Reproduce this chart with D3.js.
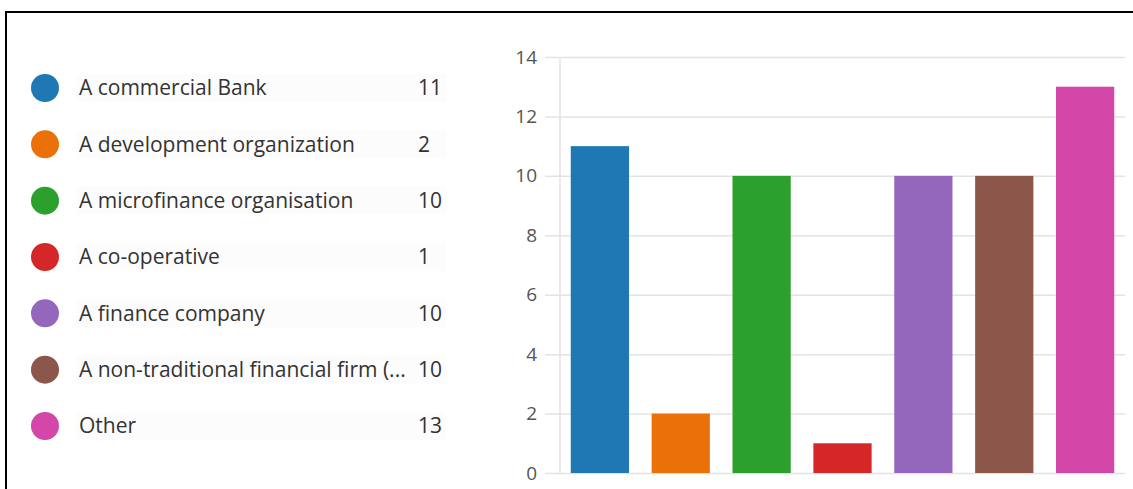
<!DOCTYPE html>
<html>
<head>
<meta charset="utf-8">
<script src="https://cdn.jsdelivr.net/npm/d3@7"></script>
<style>
  body { margin: 0; background: #fff; }
  svg { display: block; font-family: "Open Sans", "Noto Sans", sans-serif; }
</style>
</head>
<body>
<script>
// chart data
var categories = [
  "A commercial Bank",
  "A development organization",
  "A microfinance organisation",
  "A co-operative",
  "A finance company",
  "A non-traditional financial firm (...",
  "Other"
];
var counts = [11, 2, 10, 1, 10, 10, 13];
var colors = ["#1f77b4", "#ec7008", "#2ca02c", "#d62728", "#9467bd", "#8c564b", "#d247a8"];
var yTicks = [0, 2, 4, 6, 8, 10, 12, 14];

var svgWidth = 1133;
var svgHeight = 489;

var svg = d3.select("body")
  .append("svg")
  .attr("width", svgWidth)
  .attr("height", svgHeight);

// frame (top and left edges visible)
svg.append("path")
  .attr("d", "M6,489 V12 H1133")
  .attr("fill", "none")
  .attr("stroke", "#000")
  .attr("stroke-width", 2);

// legend
var legendY = d3.scalePoint()
  .domain(categories)
  .range([88, 426]);

var legend = svg.append("g");

var rows = legend.selectAll("g.row")
  .data(categories)
  .enter()
  .append("g")
  .attr("class", "row")
  .attr("transform", d => `translate(0, ${legendY(d)})`);

rows.append("rect")
  .attr("x", 76)
  .attr("y", -14)
  .attr("width", 370)
  .attr("height", 28)
  .attr("fill", "#fcfcfc");

rows.append("circle")
  .attr("cx", 45)
  .attr("cy", 0)
  .attr("r", 14)
  .attr("fill", (d, i) => colors[i]);

rows.append("text")
  .attr("x", 79)
  .attr("dy", "0.35em")
  .style("font-size", "21px")
  .style("fill", "#333")
  .text(d => d);

rows.append("text")
  .attr("x", 418)
  .attr("dy", "0.35em")
  .style("font-size", "21px")
  .style("fill", "#333")
  .text((d, i) => counts[i]);

// bar chart
var x = d3.scaleBand()
  .domain(categories)
  .range([560, 1125])
  .paddingInner(0.28)
  .paddingOuter(0.133);

var y = d3.scaleLinear()
  .domain([0, 14])
  .range([473, 57]);

// gridlines
var leftAxis = d3.axisLeft(y)
  .tickValues(yTicks)
  .tickSize(-(1125 - 545))
  .tickPadding(8);

var yAxisG = svg.append("g")
  .attr("transform", "translate(545, 0)")
  .call(leftAxis);

yAxisG.select(".domain").remove();
yAxisG.selectAll(".tick line")
  .attr("stroke", "#e3e3e3")
  .attr("stroke-width", 1.5);
yAxisG.selectAll(".tick text")
  .style("font-size", "19px")
  .style("font-family", "\"Open Sans\", \"Noto Sans\", sans-serif")
  .style("fill", "#555");

// vertical axis line
svg.append("line")
  .attr("x1", 560)
  .attr("x2", 560)
  .attr("y1", y(14) + 2)
  .attr("y2", y(0))
  .attr("stroke", "#e3e3e3")
  .attr("stroke-width", 1.5);

svg.append("g")
  .selectAll("rect")
  .data(categories)
  .enter()
  .append("rect")
  .attr("x", d => x(d))
  .attr("width", x.bandwidth())
  .attr("y", (d, i) => y(counts[i]))
  .attr("height", (d, i) => y(0) - y(counts[i]))
  .attr("fill", (d, i) => colors[i]);
</script>
</body>
</html>
